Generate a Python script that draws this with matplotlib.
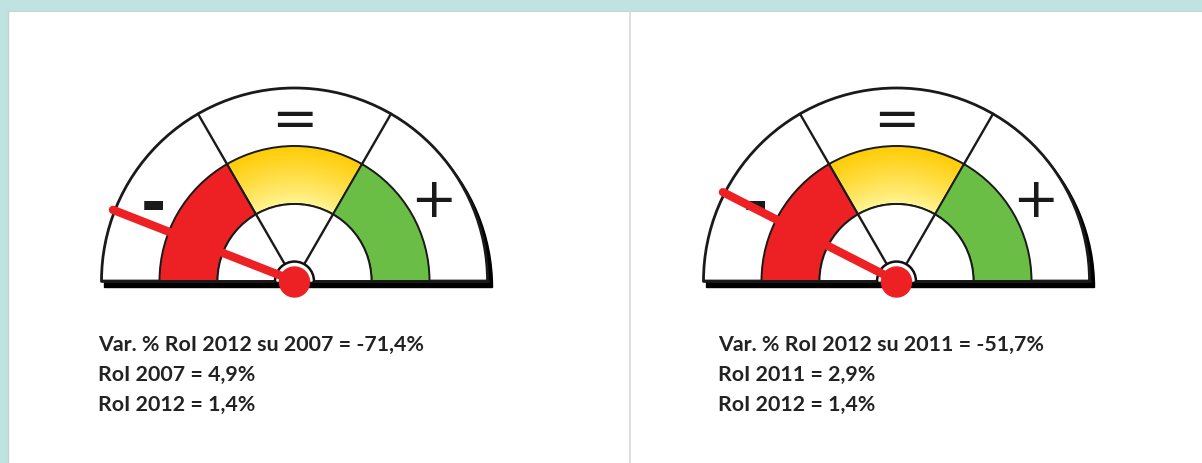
import numpy as np
import matplotlib.pyplot as plt
from matplotlib.patches import Wedge, Circle, Rectangle

# Gauge data
gauge_cx = [294.5, 896.5]      # gauge centres (pixels)
gauge_cy = 282
needle_deg = [158.6, 152.9]    # needle angle
zone_labels = ['-', '=', '+']
zone_label_deg = [152, 90, 30]
zone_colors = ['#ED2124', None, '#6ABD45']
text_lines = [
    ['Var. % RoI 2012 su 2007 = -71,4%', 'RoI 2007 = 4,9%', 'RoI 2012 = 1,4%'],
    ['Var. % RoI 2012 su 2011 = -51,7%', 'RoI 2011 = 2,9%', 'RoI 2012 = 1,4%'],
]
text_x = [98, 718]

r_out, r_mid, r_in = 193, 135, 77

W, H = 1202, 464
fig = plt.figure(figsize=(W / 100, H / 100), dpi=100)
ax = fig.add_axes([0, 0, 1, 1])
ax.set_xlim(0, W)
ax.set_ylim(H, 0)
ax.set_aspect('equal')
ax.axis('off')

# page background
teal = '#BEE3E0'
ax.add_patch(Rectangle((0, 0), W, 11, color=teal, zorder=0))
ax.add_patch(Rectangle((0, 0), 8, H, color=teal, zorder=0))
ax.plot([8, W], [11.5, 11.5], color='#C9D3D2', lw=0.8, zorder=0)
ax.plot([8, 8], [11, H], color='#CFCFCF', lw=0.8, zorder=0)
ax.plot([629.5, 629.5], [11, H], color='#D9D9D9', lw=1.2, zorder=0)

# yellow gradient colours
gold = np.array([1.0, 0.80, 0.02])
pale = np.array([1.0, 0.97, 0.62])

for g, cx in enumerate(gauge_cx):
    cy = gauge_cy
    # drop shadow
    ax.add_patch(Wedge((cx + 4, cy + 6.5), r_out + 1, 180, 360, color='black', zorder=1))
    # outer white half disc (y axis is inverted so use 180..360)
    ax.add_patch(Wedge((cx, cy), r_out, 180, 360, facecolor='white',
                       edgecolor='#1a1a1a', lw=2.0, zorder=2))
    # coloured band
    spans = [(180, 120), (120, 60), (60, 0)]
    for (a0, a1), col in zip(spans, zone_colors):
        w = Wedge((cx, cy), r_mid, 360 - a0, 360 - a1, width=r_mid - r_in,
                  facecolor=col if col else 'none', edgecolor='#1a1a1a',
                  lw=1.4, zorder=4)
        ax.add_patch(w)
        if col is None:
            n = 200
            xs = np.linspace(cx - r_mid, cx + r_mid, n)
            ys = np.linspace(cy - r_mid, cy, n)
            X, Y = np.meshgrid(xs, ys)
            R = np.hypot(X - cx, Y - cy)
            t = np.clip((R - r_in) / (r_mid - r_in), 0, 1)[..., None]
            t = t ** 0.8
            img = pale * (1 - t) + gold * t
            im = ax.imshow(img, extent=(cx - r_mid, cx + r_mid, cy, cy - r_mid),
                           origin='upper', zorder=3, interpolation='bilinear')
            clip = Wedge((cx, cy), r_mid, 360 - a0, 360 - a1, width=r_mid - r_in,
                         transform=ax.transData)
            im.set_clip_path(clip)
    # inner white half disc
    ax.add_patch(Wedge((cx, cy), r_in, 180, 360, facecolor='white',
                       edgecolor='#1a1a1a', lw=1.4, zorder=4))
    # divider lines
    for a in (120, 60):
        xa, ya = np.cos(np.radians(a)), -np.sin(np.radians(a))
        ax.plot([cx + r_mid * xa, cx + r_out * xa], [cy + r_mid * ya, cy + r_out * ya],
                color='#1a1a1a', lw=1.7, zorder=5)
        ax.plot([cx + 18 * xa, cx + r_in * xa], [cy + 18 * ya, cy + r_in * ya],
                color='#1a1a1a', lw=1.7, zorder=5)
    # baseline
    ax.plot([cx - r_out, cx + r_out], [cy, cy], color='#1a1a1a', lw=1.8, zorder=5)
    # zone symbols
    for lab, a in zip(zone_labels, zone_label_deg):
        xa, ya = np.cos(np.radians(a)), -np.sin(np.radians(a))
        ax.text(cx + 160 * xa, cy + 160 * ya, lab,
                fontsize=40 if lab != '-' else 44, fontweight='bold' if lab == '-' else 'normal',
                ha='center', va='center', color='#1a1a1a', zorder=6,
                family='DejaVu Sans')
    # hub
    ax.add_patch(Wedge((cx, cy), 20, 180, 360, color='#111111', zorder=6))
    ax.add_patch(Wedge((cx, cy), 17.5, 180, 360, color='white', zorder=6))
    # needle
    na = np.radians(needle_deg[g])
    nl = 195
    ax.plot([cx, cx + nl * np.cos(na)], [cy, cy - nl * np.sin(na)],
            color='#ED2124', lw=6, solid_capstyle='round', zorder=7)
    ax.add_patch(Circle((cx, cy + 1), 15, color='#ED2124', zorder=8))
    # text
    for i, line in enumerate(text_lines[g]):
        ax.text(text_x[g], 351 + 30 * i, line, fontsize=15.4, fontweight='bold',
                family='Lato', color='#222222', ha='left', va='baseline')

fig.savefig('out.png', dpi=100)
